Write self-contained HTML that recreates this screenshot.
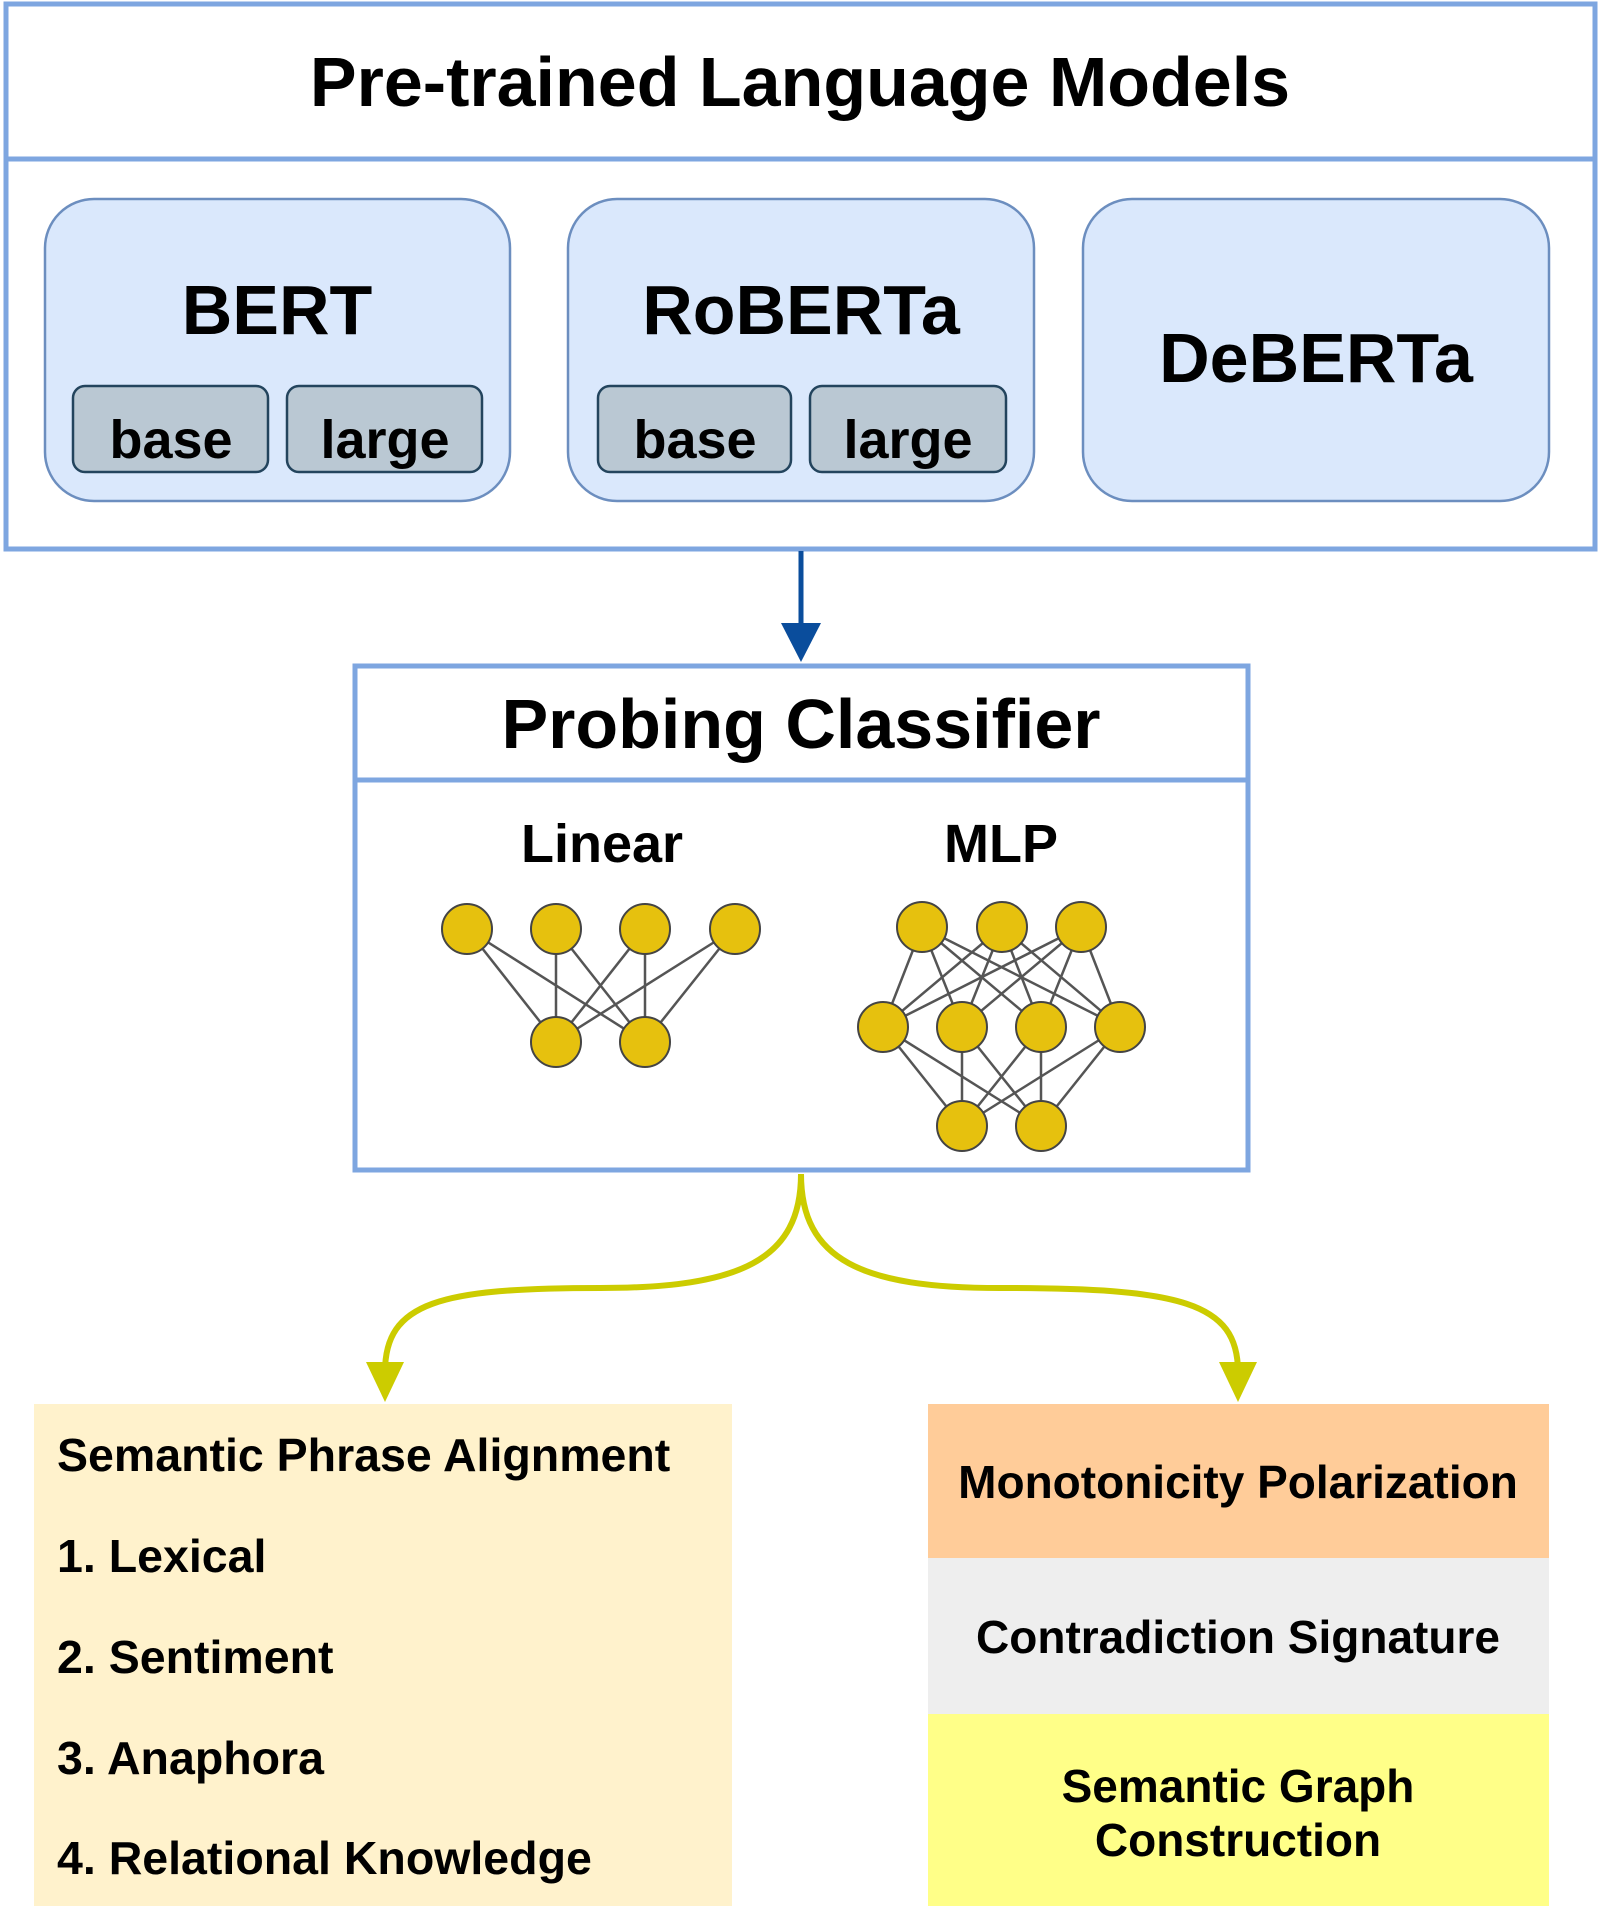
<!DOCTYPE html>
<html><head><meta charset="utf-8"><style>
body{margin:0;background:#fff;}
svg text{font-family:"Liberation Sans",Arial,sans-serif;font-weight:bold;fill:#000;}
</style></head><body>
<svg width="1600" height="1918" viewBox="0 0 1600 1918" xmlns="http://www.w3.org/2000/svg">
<!-- top box -->
<rect x="6" y="4" width="1589" height="545" fill="#fff" stroke="#7ea6e0" stroke-width="5"/>
<line x1="6" y1="159" x2="1595" y2="159" stroke="#7ea6e0" stroke-width="5"/>
<text x="800" y="106" font-size="70" text-anchor="middle">Pre-trained Language Models</text>
<g stroke="#6c8ebf" stroke-width="2.5" fill="#dae8fc">
<rect x="45" y="199" width="465" height="302" rx="49"/>
<rect x="568" y="199" width="466" height="302" rx="49"/>
<rect x="1083" y="199" width="466" height="302" rx="49"/>
</g>
<g stroke="#23445d" stroke-width="2.5" fill="#bac8d3">
<rect x="73" y="386" width="195" height="86" rx="12"/>
<rect x="287" y="386" width="195" height="86" rx="12"/>
<rect x="598" y="386" width="193" height="86" rx="12"/>
<rect x="810" y="386" width="196" height="86" rx="12"/>
</g>
<text x="277" y="334" font-size="70" text-anchor="middle">BERT</text>
<text x="801" y="334" font-size="70" text-anchor="middle">RoBERTa</text>
<text x="1316" y="382" font-size="70" text-anchor="middle">DeBERTa</text>
<g font-size="54" text-anchor="middle">
<text x="171" y="458">base</text><text x="385" y="458">large</text>
<text x="695" y="458">base</text><text x="908" y="458">large</text>
</g>
<!-- arrow -->
<line x1="801" y1="551" x2="801" y2="630" stroke="#0a4d9c" stroke-width="5"/>
<path d="M781,623 L821,623 L801,662 z" fill="#0a4d9c"/>
<!-- probing box -->
<rect x="355" y="666" width="893" height="504" fill="#fff" stroke="#7ea6e0" stroke-width="5"/>
<line x1="355" y1="780" x2="1248" y2="780" stroke="#7ea6e0" stroke-width="5"/>
<text x="801" y="748" font-size="70" text-anchor="middle">Probing Classifier</text>
<text x="602" y="862" font-size="54" text-anchor="middle">Linear</text>
<text x="1001" y="862" font-size="54" text-anchor="middle">MLP</text>
<g stroke="#555" stroke-width="2.5">
<line x1="467" y1="929" x2="556" y2="1042"/><line x1="467" y1="929" x2="645" y2="1042"/>
<line x1="556" y1="929" x2="556" y2="1042"/><line x1="556" y1="929" x2="645" y2="1042"/>
<line x1="645" y1="929" x2="556" y2="1042"/><line x1="645" y1="929" x2="645" y2="1042"/>
<line x1="735" y1="929" x2="556" y2="1042"/><line x1="735" y1="929" x2="645" y2="1042"/>
<line x1="922" y1="927" x2="883" y2="1027"/><line x1="922" y1="927" x2="962" y2="1027"/><line x1="922" y1="927" x2="1041" y2="1027"/><line x1="922" y1="927" x2="1120" y2="1027"/>
<line x1="1002" y1="927" x2="883" y2="1027"/><line x1="1002" y1="927" x2="962" y2="1027"/><line x1="1002" y1="927" x2="1041" y2="1027"/><line x1="1002" y1="927" x2="1120" y2="1027"/>
<line x1="1081" y1="927" x2="883" y2="1027"/><line x1="1081" y1="927" x2="962" y2="1027"/><line x1="1081" y1="927" x2="1041" y2="1027"/><line x1="1081" y1="927" x2="1120" y2="1027"/>
<line x1="883" y1="1027" x2="962" y2="1126"/><line x1="883" y1="1027" x2="1041" y2="1126"/>
<line x1="962" y1="1027" x2="962" y2="1126"/><line x1="962" y1="1027" x2="1041" y2="1126"/>
<line x1="1041" y1="1027" x2="962" y2="1126"/><line x1="1041" y1="1027" x2="1041" y2="1126"/>
<line x1="1120" y1="1027" x2="962" y2="1126"/><line x1="1120" y1="1027" x2="1041" y2="1126"/>
</g>
<g fill="#e6c10e" stroke="#444" stroke-width="2">
<circle cx="467" cy="929" r="25"/><circle cx="556" cy="929" r="25"/><circle cx="645" cy="929" r="25"/><circle cx="735" cy="929" r="25"/>
<circle cx="556" cy="1042" r="25"/><circle cx="645" cy="1042" r="25"/>
<circle cx="922" cy="927" r="25"/><circle cx="1002" cy="927" r="25"/><circle cx="1081" cy="927" r="25"/>
<circle cx="883" cy="1027" r="25"/><circle cx="962" cy="1027" r="25"/><circle cx="1041" cy="1027" r="25"/><circle cx="1120" cy="1027" r="25"/>
<circle cx="962" cy="1126" r="25"/><circle cx="1041" cy="1126" r="25"/>
</g>
<g fill="none" stroke="#cccc00" stroke-width="6">
<path d="M801,1174 C801,1260 740,1288 600,1288 C440,1288 385,1302 385,1372"/>
<path d="M801,1174 C801,1260 862,1288 1000,1288 C1180,1288 1238,1302 1238,1372"/>
</g>
<path d="M366,1362 L404,1362 L385,1402 z" fill="#cccc00"/>
<path d="M1219,1362 L1257,1362 L1238,1402 z" fill="#cccc00"/>
<rect x="34" y="1404" width="698" height="502" fill="#fff2cc"/>
<g font-size="46.5">
<text x="57" y="1471">Semantic Phrase Alignment</text>
<text x="57" y="1572">1. Lexical</text>
<text x="57" y="1673">2. Sentiment</text>
<text x="57" y="1774">3. Anaphora</text>
<text x="57" y="1874">4. Relational Knowledge</text>
</g>
<rect x="928" y="1404" width="621" height="154" fill="#ffcc99"/>
<rect x="928" y="1558" width="621" height="156" fill="#eeeeee"/>
<rect x="928" y="1714" width="621" height="192" fill="#ffff88"/>
<g font-size="46" text-anchor="middle">
<text x="1238" y="1498">Monotonicity Polarization</text>
<text x="1238" y="1653">Contradiction Signature</text>
<text x="1238" y="1802">Semantic Graph</text>
<text x="1238" y="1856">Construction</text>
</g>
</svg>
</body></html>
